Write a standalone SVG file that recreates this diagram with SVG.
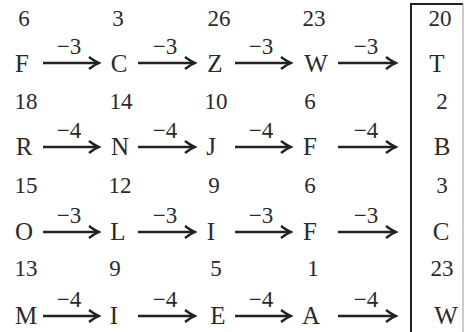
<svg xmlns="http://www.w3.org/2000/svg" width="466" height="332" viewBox="0 0 466 332">
<style>
text{font-family:"Liberation Serif","Times New Roman",serif;fill:#2a2a2a}
.n{font-size:23px;text-anchor:middle}
.l{font-size:25px;text-anchor:middle}
.lab{font-size:23px;text-anchor:middle}
.ar{stroke:#222;stroke-width:2.4;fill:none;marker-end:url(#h)}
.box{stroke:#222;stroke-width:2;fill:none}
</style>
<defs>
<marker id="h" markerUnits="userSpaceOnUse" markerWidth="14" markerHeight="14" refX="12" refY="7" orient="auto">
<path d="M2,1 Q7,5 12,7 Q7,9 2,13" fill="none" stroke="#222" stroke-width="2.4"/>
</marker>
</defs>
<rect width="466" height="332" fill="#fff"/>
<g id="box">
<path class="box" d="M411,332 V4 H463"/>
<path d="M463,4 V332" stroke="#999" stroke-width="1" fill="none"/>
</g>
<!-- row 1 -->
<g id="r1c1"><text class="n" x="24" y="26">6</text><text class="l" x="22" y="72">F</text></g>
<g id="r1c2"><text class="n" x="118" y="26">3</text><text class="l" x="119" y="72">C</text></g>
<g id="r1c3"><text class="n" x="219" y="26">26</text><text class="l" x="215" y="72">Z</text></g>
<g id="r1c4"><text class="n" x="314" y="26">23</text><text class="l" x="316" y="72">W</text></g>
<g id="r1c5"><text class="n" x="440" y="26">20</text><text class="l" x="437" y="72">T</text></g>
<!-- row 2 -->
<g id="r2c1"><text class="n" x="26" y="109">18</text><text class="l" x="24" y="155">R</text></g>
<g id="r2c2"><text class="n" x="121" y="109">14</text><text class="l" x="120" y="155">N</text></g>
<g id="r2c3"><text class="n" x="216" y="109">10</text><text class="l" x="211" y="155">J</text></g>
<g id="r2c4"><text class="n" x="310" y="109">6</text><text class="l" x="310" y="155">F</text></g>
<g id="r2c5"><text class="n" x="442" y="109">2</text><text class="l" x="442" y="155">B</text></g>
<!-- row 3 -->
<g id="r3c1"><text class="n" x="26" y="193">15</text><text class="l" x="24" y="240">O</text></g>
<g id="r3c2"><text class="n" x="120" y="193">12</text><text class="l" x="118" y="240">L</text></g>
<g id="r3c3"><text class="n" x="214" y="193">9</text><text class="l" x="211" y="240">I</text></g>
<g id="r3c4"><text class="n" x="310" y="193">6</text><text class="l" x="310" y="240">F</text></g>
<g id="r3c5"><text class="n" x="442" y="193">3</text><text class="l" x="441" y="240">C</text></g>
<!-- row 4 -->
<g id="r4c1"><text class="n" x="26" y="276">13</text><text class="l" x="26" y="324">M</text></g>
<g id="r4c2"><text class="n" x="115" y="276">9</text><text class="l" x="114" y="324">I</text></g>
<g id="r4c3"><text class="n" x="216" y="276">5</text><text class="l" x="218" y="324">E</text></g>
<g id="r4c4"><text class="n" x="313" y="276">1</text><text class="l" x="311" y="324">A</text></g>
<g id="r4c5"><text class="n" x="442" y="276">23</text><text class="l" x="446" y="324">W</text></g>
<g id="connectors">
<path class="ar" d="M43,63 H99"/><path class="ar" d="M138,63 H195"/><path class="ar" d="M235,63 H291"/><path class="ar" d="M338,63 H396"/>
<path class="ar" d="M43,147 H99"/><path class="ar" d="M138,147 H195"/><path class="ar" d="M235,147 H291"/><path class="ar" d="M338,147 H396"/>
<path class="ar" d="M43,232 H99"/><path class="ar" d="M138,232 H195"/><path class="ar" d="M235,232 H291"/><path class="ar" d="M338,232 H396"/>
<path class="ar" d="M43,316 H99"/><path class="ar" d="M138,316 H195"/><path class="ar" d="M235,316 H291"/><path class="ar" d="M338,316 H396"/>
<text class="lab" x="69" y="54">−3</text><text class="lab" x="165" y="54">−3</text><text class="lab" x="261" y="54">−3</text><text class="lab" x="366" y="54">−3</text>
<text class="lab" x="69" y="138">−4</text><text class="lab" x="165" y="138">−4</text><text class="lab" x="261" y="138">−4</text><text class="lab" x="366" y="138">−4</text>
<text class="lab" x="69" y="223">−3</text><text class="lab" x="165" y="223">−3</text><text class="lab" x="261" y="223">−3</text><text class="lab" x="366" y="223">−3</text>
<text class="lab" x="69" y="307">−4</text><text class="lab" x="165" y="307">−4</text><text class="lab" x="261" y="307">−4</text><text class="lab" x="366" y="307">−4</text>
</g>
</svg>
